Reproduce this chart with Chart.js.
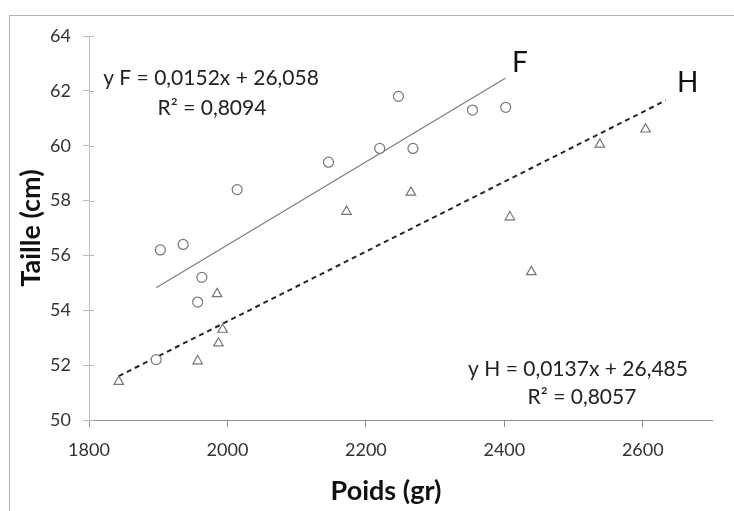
<!DOCTYPE html>
<html>
<head>
<meta charset="utf-8">
<script src="https://cdn.jsdelivr.net/npm/chart.js@4.4.0/dist/chart.umd.min.js"></script>
<style>
  body { margin: 0; background: #fff; }
  canvas { display: block; }
</style>
</head>
<body>
<canvas id="myChart" width="734" height="511"></canvas>
<script>
// Filles (F), circles
var poidsF = [1897, 1903, 1936, 1957, 1963, 2014, 2146, 2220, 2247, 2268, 2354, 2402];
var tailleF = [52.2, 56.2, 56.4, 54.3, 55.2, 58.4, 59.4, 59.9, 61.8, 59.9, 61.3, 61.4];

// Garcons (H), triangles
var poidsH = [1843, 1957, 1985, 1987, 1993, 2172, 2265, 2408, 2439, 2538, 2604];
var tailleH = [51.4, 52.15, 54.6, 52.8, 53.3, 57.6, 58.3, 57.4, 55.4, 60.05, 60.6];

// trend lines, ends as drawn
var trendFx = [1897, 2402];
var trendFy = [54.82, 62.47];
var trendHx = [1843, 2633];
var trendHy = [51.6, 61.65];

// tick labels
var xTicks = [1800, 2000, 2200, 2400, 2600];
var yTicks = [50, 52, 54, 56, 58, 60, 62, 64];

var eqF = ['y F = 0,0152x + 26,058', 'R\u00b2 = 0,8094'];
var eqH = ['y H = 0,0137x + 26,485', 'R\u00b2 = 0,8057'];

function toPoints(xs, ys) {
  return xs.map(function(x, i) { return { x: x, y: ys[i] }; });
}

var face = "Lato, 'Open Sans', sans-serif";

var extras = {
  id: 'extras',
  beforeDraw: function(chart) {
    var ctx = chart.ctx;
    ctx.save();
    ctx.fillStyle = '#fff';
    ctx.fillRect(0, 0, chart.width, chart.height);
    ctx.strokeStyle = '#b4b4b4';
    ctx.lineWidth = 1;
    ctx.strokeRect(9.5, 15.5, chart.width + 20, chart.height + 20);
    ctx.restore();
  },
  afterDraw: function(chart) {
    var ctx = chart.ctx;
    var area = chart.chartArea;
    var yScale = chart.scales.y;
    ctx.save();

    // y ticks cross the axis
    ctx.strokeStyle = '#b8b8b8';
    ctx.lineWidth = 1;
    yTicks.forEach(function(v) {
      var py = Math.round(yScale.getPixelForValue(v)) + 0.5;
      ctx.beginPath();
      ctx.moveTo(area.left, py);
      ctx.lineTo(area.left + 5, py);
      ctx.stroke();
    });

    // axis titles
    ctx.fillStyle = '#111';
    ctx.font = "bold 27px " + face;
    ctx.textAlign = 'center';
    ctx.textBaseline = 'middle';
    ctx.fillText('Poids (gr)', 386, 491);
    ctx.save();
    ctx.translate(31, (area.top + area.bottom) / 2);
    ctx.rotate(-Math.PI / 2);
    ctx.fillText('Taille (cm)', 0, 0);
    ctx.restore();

    // equations
    ctx.fillStyle = '#222';
    ctx.font = "21px " + face;
    ctx.textBaseline = 'alphabetic';
    ctx.fillText(eqF[0], 211, 85);
    ctx.fillText(eqF[1], 212, 115);
    ctx.fillText(eqH[0], 578, 376);
    ctx.fillText(eqH[1], 582, 404);

    // series labels
    ctx.fillStyle = '#111';
    ctx.font = "28px " + face;
    ctx.textAlign = 'left';
    ctx.fillText('F', 512, 72);
    ctx.fillText('H', 677, 92);
    ctx.restore();
  }
};

var ctx = document.getElementById('myChart').getContext('2d');
var myChart = new Chart(ctx, {
  type: 'scatter',
  data: {
    datasets: [
      {
        label: 'F',
        data: toPoints(poidsF, tailleF),
        pointStyle: 'circle',
        pointRadius: 5,
        pointBorderWidth: 1.2,
        pointBorderColor: '#777',
        pointBackgroundColor: '#fff',
        order: 0
      },
      {
        label: 'H',
        data: toPoints(poidsH, tailleH),
        pointStyle: 'triangle',
        pointRadius: 5.5,
        pointBorderWidth: 1.2,
        pointBorderColor: '#777',
        pointBackgroundColor: '#fff',
        order: 0
      },
      {
        label: 'Tendance F',
        data: toPoints(trendFx, trendFy),
        showLine: true,
        borderColor: '#7f7f7f',
        borderWidth: 1.3,
        pointRadius: 0,
        order: 1
      },
      {
        label: 'Tendance H',
        data: toPoints(trendHx, trendHy),
        showLine: true,
        borderColor: '#262626',
        borderWidth: 2,
        borderDash: [5, 4],
        pointRadius: 0,
        order: 1
      }
    ]
  },
  options: {
    responsive: false,
    animation: false,
    layout: { padding: { left: 0, top: 36, right: 22, bottom: 0 } },
    plugins: {
      legend: { display: false },
      tooltip: { enabled: false }
    },
    scales: {
      x: {
        type: 'linear',
        min: 1800,
        max: 2700,
        afterBuildTicks: function(scale) {
          scale.ticks = xTicks.map(function(v) { return { value: v }; });
        },
        afterFit: function(scale) { scale.height = 91; },
        border: { color: '#8c8c8c', width: 1 },
        grid: { drawOnChartArea: false, tickLength: 7, color: '#8c8c8c' },
        ticks: {
          padding: 12,
          color: '#333',
          font: { family: face, size: 18 },
          maxRotation: 0,
          callback: function(v) { return String(v); }
        }
      },
      y: {
        type: 'linear',
        min: 50,
        max: 64,
        afterBuildTicks: function(scale) {
          scale.ticks = yTicks.map(function(v) { return { value: v }; });
        },
        afterFit: function(scale) { scale.width = 89; },
        border: { color: '#bfbfbf', width: 1 },
        grid: { drawOnChartArea: false, tickLength: 6, color: '#b8b8b8' },
        ticks: {
          padding: 12,
          color: '#333',
          font: { family: face, size: 18 },
          callback: function(v) { return String(v); }
        }
      }
    }
  },
  plugins: [extras]
});
</script>
</body>
</html>
